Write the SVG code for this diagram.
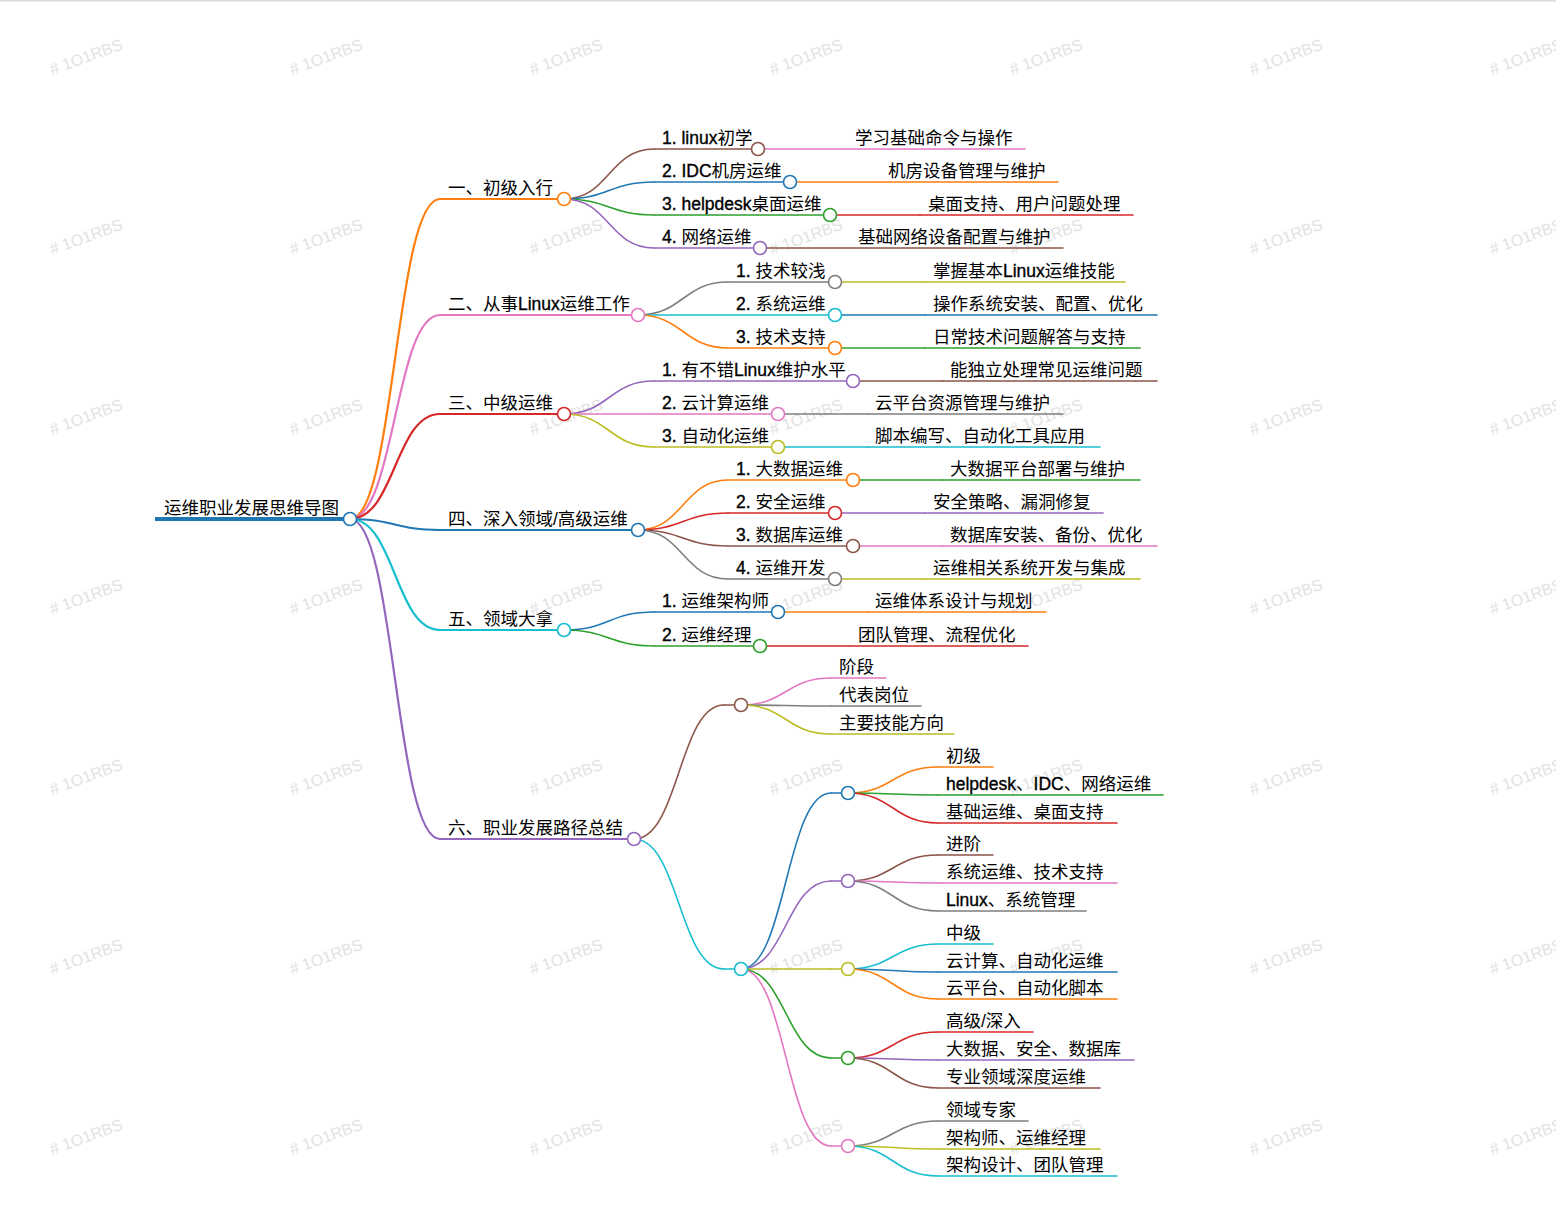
<svg xmlns="http://www.w3.org/2000/svg" width="1556" height="1216" viewBox="0 0 1556 1216">
<defs>
<style>
.t{font-family:"Liberation Sans","Noto Sans CJK SC",sans-serif;font-size:17.5px;fill:#000}
.en{stroke:#000;stroke-width:0.35}
.wm{font-family:"Liberation Sans",sans-serif;font-size:16px;fill:#e2e2e2}
.k{fill:none;stroke-width:1.6;stroke-linecap:round}
.k1{fill:none;stroke-width:2.2;stroke-linecap:round}
.c{fill:#fff;stroke-width:1.6}
.bl{stroke:#1f77b4}.or{stroke:#ff7f0e}.gr{stroke:#2ca02c}.rd{stroke:#d62728}.pu{stroke:#9467bd}
.br{stroke:#8c564b}.pk{stroke:#e377c2}.gy{stroke:#7f7f7f}.ol{stroke:#bcbd22}.cy{stroke:#17becf}
</style>
</defs>
<rect x="0" y="0" width="1556" height="1216" fill="#fff"/>
<rect x="0" y="0" width="1556" height="1.5" fill="#dddddd"/>
<g id="watermark">
<text class="wm" transform="translate(52,75) rotate(-20)"># 1O1RBS</text>
<text class="wm" transform="translate(292,75) rotate(-20)"># 1O1RBS</text>
<text class="wm" transform="translate(532,75) rotate(-20)"># 1O1RBS</text>
<text class="wm" transform="translate(772,75) rotate(-20)"># 1O1RBS</text>
<text class="wm" transform="translate(1012,75) rotate(-20)"># 1O1RBS</text>
<text class="wm" transform="translate(1252,75) rotate(-20)"># 1O1RBS</text>
<text class="wm" transform="translate(1492,75) rotate(-20)"># 1O1RBS</text>
<text class="wm" transform="translate(52,255) rotate(-20)"># 1O1RBS</text>
<text class="wm" transform="translate(292,255) rotate(-20)"># 1O1RBS</text>
<text class="wm" transform="translate(532,255) rotate(-20)"># 1O1RBS</text>
<text class="wm" transform="translate(772,255) rotate(-20)"># 1O1RBS</text>
<text class="wm" transform="translate(1012,255) rotate(-20)"># 1O1RBS</text>
<text class="wm" transform="translate(1252,255) rotate(-20)"># 1O1RBS</text>
<text class="wm" transform="translate(1492,255) rotate(-20)"># 1O1RBS</text>
<text class="wm" transform="translate(52,435) rotate(-20)"># 1O1RBS</text>
<text class="wm" transform="translate(292,435) rotate(-20)"># 1O1RBS</text>
<text class="wm" transform="translate(532,435) rotate(-20)"># 1O1RBS</text>
<text class="wm" transform="translate(772,435) rotate(-20)"># 1O1RBS</text>
<text class="wm" transform="translate(1012,435) rotate(-20)"># 1O1RBS</text>
<text class="wm" transform="translate(1252,435) rotate(-20)"># 1O1RBS</text>
<text class="wm" transform="translate(1492,435) rotate(-20)"># 1O1RBS</text>
<text class="wm" transform="translate(52,615) rotate(-20)"># 1O1RBS</text>
<text class="wm" transform="translate(292,615) rotate(-20)"># 1O1RBS</text>
<text class="wm" transform="translate(532,615) rotate(-20)"># 1O1RBS</text>
<text class="wm" transform="translate(772,615) rotate(-20)"># 1O1RBS</text>
<text class="wm" transform="translate(1012,615) rotate(-20)"># 1O1RBS</text>
<text class="wm" transform="translate(1252,615) rotate(-20)"># 1O1RBS</text>
<text class="wm" transform="translate(1492,615) rotate(-20)"># 1O1RBS</text>
<text class="wm" transform="translate(52,795) rotate(-20)"># 1O1RBS</text>
<text class="wm" transform="translate(292,795) rotate(-20)"># 1O1RBS</text>
<text class="wm" transform="translate(532,795) rotate(-20)"># 1O1RBS</text>
<text class="wm" transform="translate(772,795) rotate(-20)"># 1O1RBS</text>
<text class="wm" transform="translate(1012,795) rotate(-20)"># 1O1RBS</text>
<text class="wm" transform="translate(1252,795) rotate(-20)"># 1O1RBS</text>
<text class="wm" transform="translate(1492,795) rotate(-20)"># 1O1RBS</text>
<text class="wm" transform="translate(52,975) rotate(-20)"># 1O1RBS</text>
<text class="wm" transform="translate(292,975) rotate(-20)"># 1O1RBS</text>
<text class="wm" transform="translate(532,975) rotate(-20)"># 1O1RBS</text>
<text class="wm" transform="translate(772,975) rotate(-20)"># 1O1RBS</text>
<text class="wm" transform="translate(1012,975) rotate(-20)"># 1O1RBS</text>
<text class="wm" transform="translate(1252,975) rotate(-20)"># 1O1RBS</text>
<text class="wm" transform="translate(1492,975) rotate(-20)"># 1O1RBS</text>
<text class="wm" transform="translate(52,1155) rotate(-20)"># 1O1RBS</text>
<text class="wm" transform="translate(292,1155) rotate(-20)"># 1O1RBS</text>
<text class="wm" transform="translate(532,1155) rotate(-20)"># 1O1RBS</text>
<text class="wm" transform="translate(772,1155) rotate(-20)"># 1O1RBS</text>
<text class="wm" transform="translate(1012,1155) rotate(-20)"># 1O1RBS</text>
<text class="wm" transform="translate(1252,1155) rotate(-20)"># 1O1RBS</text>
<text class="wm" transform="translate(1492,1155) rotate(-20)"># 1O1RBS</text>
</g>

<g id="connectors">
<path class="k1 or" d="M350,519 C395,519 395,199 440,199"/>
<path class="k1 pk" d="M350,519 C395,519 395,315 440,315"/>
<path class="k1 rd" d="M350,519 C395,519 395,414 440,414"/>
<path class="k1 bl" d="M350,519 C395,519 395,530 440,530"/>
<path class="k1 cy" d="M350,519 C395,519 395,630 440,630"/>
<path class="k1 pu" d="M350,519 C395,519 395,839 440,839"/>
<path class="k br" d="M564,199 C609,199 609,149 654,149"/>
<path class="k bl" d="M564,199 C609,199 609,182 654,182"/>
<path class="k gr" d="M564,199 C609,199 609,215 654,215"/>
<path class="k pu" d="M564,199 C609,199 609,248 654,248"/>
<path class="k pk" d="M758,149 H848"/>
<path class="k or" d="M790,182 H880"/>
<path class="k rd" d="M830,215 H920"/>
<path class="k br" d="M760,248 H850"/>
<path class="k gy" d="M638,315 C683,315 683,282 728,282"/>
<path class="k cy" d="M638,315 C683,315 683,315 728,315"/>
<path class="k or" d="M638,315 C683,315 683,348 728,348"/>
<path class="k ol" d="M835,282 H925"/>
<path class="k bl" d="M835,315 H925"/>
<path class="k gr" d="M835,348 H925"/>
<path class="k pu" d="M564,414 C609,414 609,381 654,381"/>
<path class="k pk" d="M564,414 C609,414 609,414 654,414"/>
<path class="k ol" d="M564,414 C609,414 609,447 654,447"/>
<path class="k br" d="M853,381 H943"/>
<path class="k gy" d="M778,414 H868"/>
<path class="k cy" d="M778,447 H868"/>
<path class="k or" d="M638,530 C683,530 683,480 728,480"/>
<path class="k rd" d="M638,530 C683,530 683,513 728,513"/>
<path class="k br" d="M638,530 C683,530 683,546 728,546"/>
<path class="k gy" d="M638,530 C683,530 683,579 728,579"/>
<path class="k gr" d="M853,480 H943"/>
<path class="k pu" d="M835,513 H925"/>
<path class="k pk" d="M853,546 H943"/>
<path class="k ol" d="M835,579 H925"/>
<path class="k bl" d="M564,630 C609,630 609,612 654,612"/>
<path class="k gr" d="M564,630 C609,630 609,646 654,646"/>
<path class="k or" d="M778,612 H868"/>
<path class="k rd" d="M760,646 H850"/>
<path class="k br" d="M634,839 C679,839 679,705 724,705"/>
<path class="k cy" d="M634,839 C679,839 679,969 724,969"/>
<path class="k pk" d="M741,705 C786,705 786,678 831,678"/>
<path class="k gy" d="M741,705 C786,705 786,706 831,706"/>
<path class="k ol" d="M741,705 C786,705 786,734 831,734"/>
<path class="k bl" d="M741,969 C786,969 786,793 831,793"/>
<path class="k pu" d="M741,969 C786,969 786,881 831,881"/>
<path class="k ol" d="M741,969 C786,969 786,969 831,969"/>
<path class="k gr" d="M741,969 C786,969 786,1058 831,1058"/>
<path class="k pk" d="M741,969 C786,969 786,1146 831,1146"/>
<path class="k or" d="M848,793 C893,793 893,767 938,767"/>
<path class="k gr" d="M848,793 C893,793 893,795 938,795"/>
<path class="k rd" d="M848,793 C893,793 893,823 938,823"/>
<path class="k br" d="M848,881 C893,881 893,855 938,855"/>
<path class="k pk" d="M848,881 C893,881 893,883 938,883"/>
<path class="k gy" d="M848,881 C893,881 893,911 938,911"/>
<path class="k cy" d="M848,969 C893,969 893,944 938,944"/>
<path class="k bl" d="M848,969 C893,969 893,972 938,972"/>
<path class="k or" d="M848,969 C893,969 893,999 938,999"/>
<path class="k rd" d="M848,1058 C893,1058 893,1032 938,1032"/>
<path class="k pu" d="M848,1058 C893,1058 893,1060 938,1060"/>
<path class="k br" d="M848,1058 C893,1058 893,1088 938,1088"/>
<path class="k gy" d="M848,1146 C893,1146 893,1121 938,1121"/>
<path class="k ol" d="M848,1146 C893,1146 893,1149 938,1149"/>
<path class="k cy" d="M848,1146 C893,1146 893,1176 938,1176"/>
</g>

<g id="root">
<path d="M155,519 H344" fill="none" stroke="#1f77b4" stroke-width="4"/>
<text class="t" x="164" y="514">运维职业发展思维导图</text>
<circle class="c bl" cx="350" cy="519" r="6.5"/>
</g>

<g id="n1"><path class="k1 or" d="M440,199 H558"/><text class="t" x="448" y="194">一、初级入行</text><circle class="c or" cx="564" cy="199" r="6.5"/></g>
<g id="n2"><path class="k1 pk" d="M440,315 H632"/><text class="t" x="448" y="310">二、从事<tspan class="en">Linux</tspan>运维工作</text><circle class="c pk" cx="638" cy="315" r="6.5"/></g>
<g id="n3"><path class="k1 rd" d="M440,414 H558"/><text class="t" x="448" y="409">三、中级运维</text><circle class="c rd" cx="564" cy="414" r="6.5"/></g>
<g id="n4"><path class="k1 bl" d="M440,530 H632"/><text class="t" x="448" y="525">四、深入领域/高级运维</text><circle class="c bl" cx="638" cy="530" r="6.5"/></g>
<g id="n5"><path class="k1 cy" d="M440,630 H558"/><text class="t" x="448" y="625">五、领域大拿</text><circle class="c cy" cx="564" cy="630" r="6.5"/></g>
<g id="n6"><path class="k1 pu" d="M440,839 H628"/><text class="t" x="448" y="834">六、职业发展路径总结</text><circle class="c pu" cx="634" cy="839" r="6.5"/></g>

<g id="n1-1"><path class="k br" d="M654,149 H752"/><text class="t" x="662" y="144"><tspan class="en">1. linux</tspan>初学</text><circle class="c br" cx="758" cy="149" r="6.5"/></g>
<g id="n1-1-1"><path class="k pk" d="M848,149 H1025"/><text class="t" x="855" y="144">学习基础命令与操作</text></g>
<g id="n1-2"><path class="k bl" d="M654,182 H784"/><text class="t" x="662" y="177"><tspan class="en">2. IDC</tspan>机房运维</text><circle class="c bl" cx="790" cy="182" r="6.5"/></g>
<g id="n1-2-1"><path class="k or" d="M880,182 H1058"/><text class="t" x="888" y="177">机房设备管理与维护</text></g>
<g id="n1-3"><path class="k gr" d="M654,215 H824"/><text class="t" x="662" y="210"><tspan class="en">3. helpdesk</tspan>桌面运维</text><circle class="c gr" cx="830" cy="215" r="6.5"/></g>
<g id="n1-3-1"><path class="k rd" d="M920,215 H1133"/><text class="t" x="928" y="210">桌面支持、用户问题处理</text></g>
<g id="n1-4"><path class="k pu" d="M654,248 H754"/><text class="t" x="662" y="243"><tspan class="en">4. </tspan>网络运维</text><circle class="c pu" cx="760" cy="248" r="6.5"/></g>
<g id="n1-4-1"><path class="k br" d="M850,248 H1063"/><text class="t" x="858" y="243">基础网络设备配置与维护</text></g>

<g id="n2-1"><path class="k gy" d="M728,282 H829"/><text class="t" x="736" y="277"><tspan class="en">1. </tspan>技术较浅</text><circle class="c gy" cx="835" cy="282" r="6.5"/></g>
<g id="n2-1-1"><path class="k ol" d="M925,282 H1125"/><text class="t" x="933" y="277">掌握基本<tspan class="en">Linux</tspan>运维技能</text></g>
<g id="n2-2"><path class="k cy" d="M728,315 H829"/><text class="t" x="736" y="310"><tspan class="en">2. </tspan>系统运维</text><circle class="c cy" cx="835" cy="315" r="6.5"/></g>
<g id="n2-2-1"><path class="k bl" d="M925,315 H1157"/><text class="t" x="933" y="310">操作系统安装、配置、优化</text></g>
<g id="n2-3"><path class="k or" d="M728,348 H829"/><text class="t" x="736" y="343"><tspan class="en">3. </tspan>技术支持</text><circle class="c or" cx="835" cy="348" r="6.5"/></g>
<g id="n2-3-1"><path class="k gr" d="M925,348 H1140"/><text class="t" x="933" y="343">日常技术问题解答与支持</text></g>

<g id="n3-1"><path class="k pu" d="M654,381 H847"/><text class="t" x="662" y="376"><tspan class="en">1. </tspan>有不错<tspan class="en">Linux</tspan>维护水平</text><circle class="c pu" cx="853" cy="381" r="6.5"/></g>
<g id="n3-1-1"><path class="k br" d="M943,381 H1157"/><text class="t" x="950" y="376">能独立处理常见运维问题</text></g>
<g id="n3-2"><path class="k pk" d="M654,414 H772"/><text class="t" x="662" y="409"><tspan class="en">2. </tspan>云计算运维</text><circle class="c pk" cx="778" cy="414" r="6.5"/></g>
<g id="n3-2-1"><path class="k gy" d="M868,414 H1063"/><text class="t" x="875" y="409">云平台资源管理与维护</text></g>
<g id="n3-3"><path class="k ol" d="M654,447 H772"/><text class="t" x="662" y="442"><tspan class="en">3. </tspan>自动化运维</text><circle class="c ol" cx="778" cy="447" r="6.5"/></g>
<g id="n3-3-1"><path class="k cy" d="M868,447 H1100"/><text class="t" x="875" y="442">脚本编写、自动化工具应用</text></g>

<g id="n4-1"><path class="k or" d="M728,480 H847"/><text class="t" x="736" y="475"><tspan class="en">1. </tspan>大数据运维</text><circle class="c or" cx="853" cy="480" r="6.5"/></g>
<g id="n4-1-1"><path class="k gr" d="M943,480 H1140"/><text class="t" x="950" y="475">大数据平台部署与维护</text></g>
<g id="n4-2"><path class="k rd" d="M728,513 H829"/><text class="t" x="736" y="508"><tspan class="en">2. </tspan>安全运维</text><circle class="c rd" cx="835" cy="513" r="6.5"/></g>
<g id="n4-2-1"><path class="k pu" d="M925,513 H1103"/><text class="t" x="933" y="508">安全策略、漏洞修复</text></g>
<g id="n4-3"><path class="k br" d="M728,546 H847"/><text class="t" x="736" y="541"><tspan class="en">3. </tspan>数据库运维</text><circle class="c br" cx="853" cy="546" r="6.5"/></g>
<g id="n4-3-1"><path class="k pk" d="M943,546 H1157"/><text class="t" x="950" y="541">数据库安装、备份、优化</text></g>
<g id="n4-4"><path class="k gy" d="M728,579 H829"/><text class="t" x="736" y="574"><tspan class="en">4. </tspan>运维开发</text><circle class="c gy" cx="835" cy="579" r="6.5"/></g>
<g id="n4-4-1"><path class="k ol" d="M925,579 H1140"/><text class="t" x="933" y="574">运维相关系统开发与集成</text></g>

<g id="n5-1"><path class="k bl" d="M654,612 H772"/><text class="t" x="662" y="607"><tspan class="en">1. </tspan>运维架构师</text><circle class="c bl" cx="778" cy="612" r="6.5"/></g>
<g id="n5-1-1"><path class="k or" d="M868,612 H1046"/><text class="t" x="875" y="607">运维体系设计与规划</text></g>
<g id="n5-2"><path class="k gr" d="M654,646 H754"/><text class="t" x="662" y="641"><tspan class="en">2. </tspan>运维经理</text><circle class="c gr" cx="760" cy="646" r="6.5"/></g>
<g id="n5-2-1"><path class="k rd" d="M850,646 H1028"/><text class="t" x="858" y="641">团队管理、流程优化</text></g>

<g id="n6-h"><path class="k br" d="M724,705 H735"/><circle class="c br" cx="741" cy="705" r="6.5"/></g>
<g id="n6-h-1"><path class="k pk" d="M831,678 H886"/><text class="t" x="839" y="673">阶段</text></g>
<g id="n6-h-2"><path class="k gy" d="M831,706 H921"/><text class="t" x="839" y="701">代表岗位</text></g>
<g id="n6-h-3"><path class="k ol" d="M831,734 H954"/><text class="t" x="839" y="729">主要技能方向</text></g>
<g id="n6-b"><path class="k cy" d="M724,969 H735"/><circle class="c cy" cx="741" cy="969" r="6.5"/></g>

<g id="n6-b-1"><path class="k bl" d="M831,793 H842"/><circle class="c bl" cx="848" cy="793" r="6.5"/></g>
<g id="n6-b-1-1"><path class="k or" d="M938,767 H993"/><text class="t" x="946" y="762">初级</text></g>
<g id="n6-b-1-2"><path class="k gr" d="M938,795 H1163"/><text class="t" x="946" y="790"><tspan class="en">helpdesk</tspan>、<tspan class="en">IDC</tspan>、网络运维</text></g>
<g id="n6-b-1-3"><path class="k rd" d="M938,823 H1117"/><text class="t" x="946" y="818">基础运维、桌面支持</text></g>

<g id="n6-b-2"><path class="k pu" d="M831,881 H842"/><circle class="c pu" cx="848" cy="881" r="6.5"/></g>
<g id="n6-b-2-1"><path class="k br" d="M938,855 H993"/><text class="t" x="946" y="850">进阶</text></g>
<g id="n6-b-2-2"><path class="k pk" d="M938,883 H1117"/><text class="t" x="946" y="878">系统运维、技术支持</text></g>
<g id="n6-b-2-3"><path class="k gy" d="M938,911 H1086"/><text class="t" x="946" y="906"><tspan class="en">Linux</tspan>、系统管理</text></g>

<g id="n6-b-3"><path class="k ol" d="M831,969 H842"/><circle class="c ol" cx="848" cy="969" r="6.5"/></g>
<g id="n6-b-3-1"><path class="k cy" d="M938,944 H993"/><text class="t" x="946" y="939">中级</text></g>
<g id="n6-b-3-2"><path class="k bl" d="M938,972 H1117"/><text class="t" x="946" y="967">云计算、自动化运维</text></g>
<g id="n6-b-3-3"><path class="k or" d="M938,999 H1117"/><text class="t" x="946" y="994">云平台、自动化脚本</text></g>

<g id="n6-b-4"><path class="k gr" d="M831,1058 H842"/><circle class="c gr" cx="848" cy="1058" r="6.5"/></g>
<g id="n6-b-4-1"><path class="k rd" d="M938,1032 H1033"/><text class="t" x="946" y="1027">高级/深入</text></g>
<g id="n6-b-4-2"><path class="k pu" d="M938,1060 H1134"/><text class="t" x="946" y="1055">大数据、安全、数据库</text></g>
<g id="n6-b-4-3"><path class="k br" d="M938,1088 H1100"/><text class="t" x="946" y="1083">专业领域深度运维</text></g>

<g id="n6-b-5"><path class="k pk" d="M831,1146 H842"/><circle class="c pk" cx="848" cy="1146" r="6.5"/></g>
<g id="n6-b-5-1"><path class="k gy" d="M938,1121 H1028"/><text class="t" x="946" y="1116">领域专家</text></g>
<g id="n6-b-5-2"><path class="k ol" d="M938,1149 H1100"/><text class="t" x="946" y="1144">架构师、运维经理</text></g>
<g id="n6-b-5-3"><path class="k cy" d="M938,1176 H1117"/><text class="t" x="946" y="1171">架构设计、团队管理</text></g>
</svg>
